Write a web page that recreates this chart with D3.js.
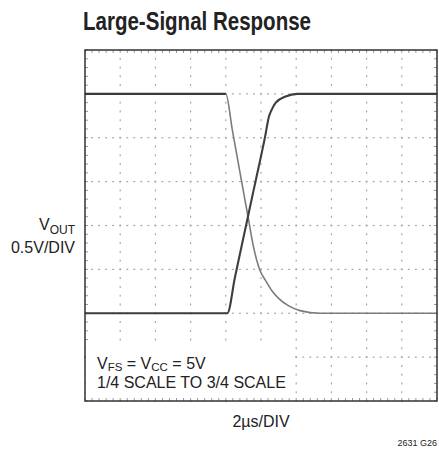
<!DOCTYPE html>
<html>
<head>
<meta charset="utf-8">
<script src="https://cdn.jsdelivr.net/npm/d3@7"></script>
<style>
    body { margin: 0; background: #fff; }
    text { font-family: "Liberation Sans", Arial, sans-serif; fill: #222; }
</style>
</head>
<body>
<svg id="svgGraph" width="439" height="450"></svg>
<script>
// scope settings
var timeDomain = [0, 20]      // us, 2us/DIV x 10
var voltDomain = [0.25, 4.25] // V, 0.5V/DIV x 8
var xDivs = 10
var yDivs = 8
var minorPerDiv = 5

// falling trace (3/4 scale -> 1/4 scale)
var fallTime = [0, 8.0, 8.37, 8.81, 9.09, 9.28, 9.55, 9.75, 9.94, 10.3, 10.61, 11.0, 11.53, 12.22, 13.35, 20]
var fallVolt = [3.75, 3.75, 3.34, 2.85, 2.54, 2.33, 2.03, 1.86, 1.74, 1.61, 1.51, 1.42, 1.34, 1.28, 1.25, 1.25]

// rising trace (1/4 scale -> 3/4 scale)
var riseTime = [0, 8.09, 8.52, 9.15, 9.47, 9.72, 10.23, 10.45, 10.61, 10.84, 11.40, 12.06, 20]
var riseVolt = [1.25, 1.25, 1.66, 2.25, 2.55, 2.78, 3.26, 3.49, 3.57, 3.65, 3.72, 3.75, 3.75]

function zip(ts, vs) {
    return ts.map(function (t, i) { return { t: t, v: vs[i] } })
}

function drawScope() {
    var svg = d3.select("#svgGraph")
    var margin = { top: 50, right: 2, bottom: 49, left: 85 },
        width = +svg.attr("width") - margin.left - margin.right,
        height = +svg.attr("height") - margin.top - margin.bottom

    var g = svg.append("g").attr("transform", translate(margin.left, margin.top))

    var x = d3.scaleLinear().domain(timeDomain).range([0, width])
    var y = d3.scaleLinear().domain(voltDomain).range([height, 0])

    var tStep = (timeDomain[1] - timeDomain[0]) / xDivs
    var vStep = (voltDomain[1] - voltDomain[0]) / yDivs
    var majorT = d3.range(1, xDivs).map(function (i) { return timeDomain[0] + i * tStep })
    var majorV = d3.range(1, yDivs).map(function (i) { return voltDomain[0] + i * vStep })
    var minorT = d3.range(0, xDivs * minorPerDiv + 1).map(function (i) { return timeDomain[0] + i * tStep / minorPerDiv })
    var minorV = d3.range(0, yDivs * minorPerDiv + 1).map(function (i) { return voltDomain[0] + i * vStep / minorPerDiv })

    var grid = g.append("g").attr("fill", "#a8a8a8")

    // dotted horizontal lines
    majorV.forEach(function (v) {
        grid.selectAll(null).data(minorT).enter().append("rect")
            .attr("x", function (t) { return x(t) - 1 })
            .attr("y", y(v) - 0.6)
            .attr("width", 2).attr("height", 1.2)
    })
    // dotted vertical lines
    majorT.forEach(function (t) {
        grid.selectAll(null).data(minorV).enter().append("rect")
            .attr("x", x(t) - 0.6)
            .attr("y", function (v) { return y(v) - 1 })
            .attr("width", 1.2).attr("height", 2)
    })

    // small ticks along the frame
    var ticks = g.append("g").attr("stroke", "#999").attr("stroke-width", 1)
    minorT.forEach(function (t) {
        ticks.append("line").attr("x1", x(t)).attr("x2", x(t)).attr("y1", 0).attr("y2", 3)
        ticks.append("line").attr("x1", x(t)).attr("x2", x(t)).attr("y1", height - 3).attr("y2", height)
    })
    minorV.forEach(function (v) {
        ticks.append("line").attr("y1", y(v)).attr("y2", y(v)).attr("x1", 0).attr("x2", 3)
        ticks.append("line").attr("y1", y(v)).attr("y2", y(v)).attr("x1", width - 3).attr("x2", width)
    })

    // white box behind the note
    g.append("rect")
        .attr("x", 1).attr("y", 293)
        .attr("width", 205).attr("height", 55)
        .attr("fill", "#fff")

    var line = d3.line()
        .x(function (d) { return x(d.t) })
        .y(function (d) { return y(d.v) })
        .curve(d3.curveMonotoneX)

    var fall = zip(fallTime, fallVolt)
    var rise = zip(riseTime, riseVolt)

    g.append("path").datum(fall)
        .attr("fill", "none").attr("stroke", "#7c7c7c").attr("stroke-width", 1.6)
        .attr("d", line)
    g.append("path").datum(fall.filter(function (d) { return d.t <= 8 }))
        .attr("fill", "none").attr("stroke", "#3a3a3a").attr("stroke-width", 2.2)
        .attr("d", line)
    g.append("path").datum(rise)
        .attr("fill", "none").attr("stroke", "#3e3e3e").attr("stroke-width", 2.1)
        .attr("d", line)

    // frame
    g.append("rect")
        .attr("width", width).attr("height", height)
        .attr("fill", "none").attr("stroke", "#333").attr("stroke-width", 1.5)

    // note
    var note = g.append("text").attr("x", 12).attr("y", 318.5).style("font-size", "16px")
    note.append("tspan").text("V")
    note.append("tspan").text("FS").attr("dy", 2.5).style("font-size", "11.5px")
    note.append("tspan").text(" = V").attr("dy", -2.5)
    note.append("tspan").text("CC").attr("dy", 2.5).style("font-size", "11.5px")
    note.append("tspan").text(" = 5V").attr("dy", -2.5)
    g.append("text").attr("x", 12).attr("y", 338).style("font-size", "16px")
        .text("1/4 SCALE TO 3/4 SCALE")

    // title and axis labels
    svg.append("text")
        .attr("x", 83).attr("y", 29.5)
        .attr("textLength", 228).attr("lengthAdjust", "spacingAndGlyphs")
        .style("font-family", "'Liberation Sans Narrow', 'Liberation Sans', sans-serif")
        .style("font-weight", "bold").style("font-size", "25px")
        .text("Large-Signal Response")

    var yl = svg.append("text").attr("x", 75).attr("y", 230)
        .attr("text-anchor", "end").style("font-size", "16px")
    yl.append("tspan").text("V")
    yl.append("tspan").text("OUT").attr("dy", 4).style("font-size", "12px")
    svg.append("text").attr("x", 75).attr("y", 252.5)
        .attr("text-anchor", "end").style("font-size", "16px")
        .text("0.5V/DIV")

    svg.append("text").attr("x", margin.left + width / 2).attr("y", 427)
        .attr("text-anchor", "middle").style("font-size", "16px")
        .text("2\u00b5s/DIV")

    svg.append("text").attr("x", 437).attr("y", 445.5)
        .attr("text-anchor", "end").style("font-size", "9px")
        .text("2631 G26")

    function translate(x, y) {
        return "translate(" + x + "," + y + ")"
    }
}

drawScope()
</script>
</body>
</html>
